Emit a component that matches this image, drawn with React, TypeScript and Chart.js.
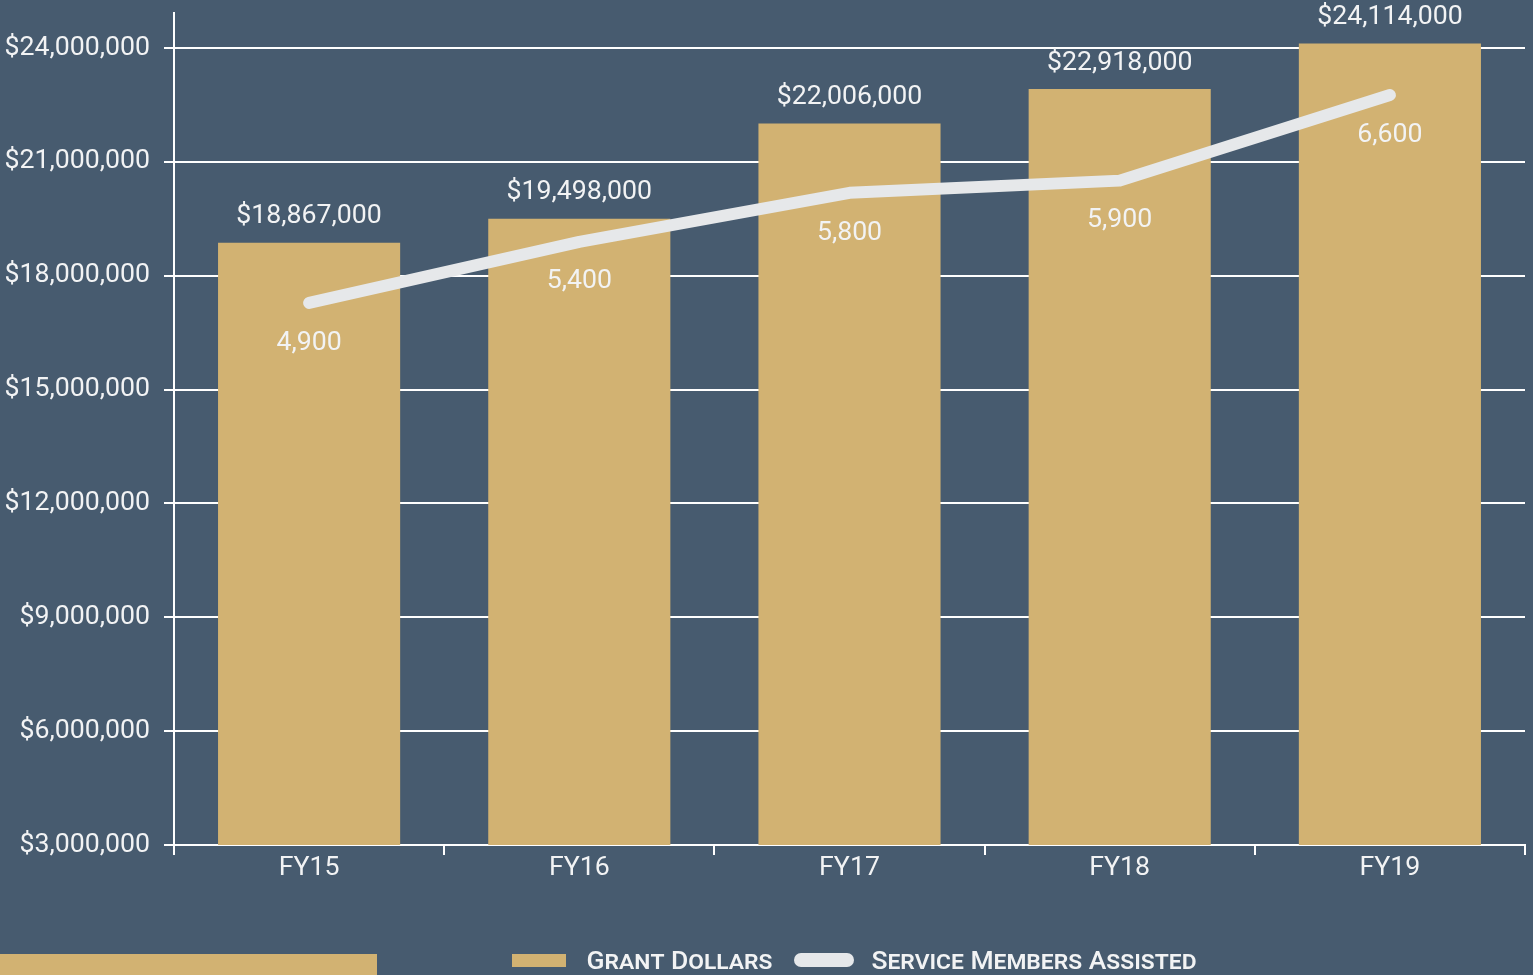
import React, { useEffect, useRef } from "react";
import { Chart, registerables } from "chart.js";

Chart.register(...registerables);

const categories = ["FY15", "FY16", "FY17", "FY18", "FY19"];
const grantDollars = [18867000, 19498000, 22006000, 22918000, 24114000];
const serviceMembers = [4900, 5400, 5800, 5900, 6600];
const yTickValues = [3000000, 6000000, 9000000, 12000000, 15000000, 18000000, 21000000, 24000000];
const grantLabel = "Grant Dollars";
const serviceLabel = "Service Members Assisted";

const BG = "#475b6f";
const GOLD = "#d2b272";
const LINE = "#e6e8ea";
const TEXT = "#f2f3f4";
const FONT = "Roboto";
const FS = 26.7;

const money = (v: number) => "$" + v.toLocaleString("en-US");
const num = (v: number) => v.toLocaleString("en-US");

const valueLabels = {
  id: "valueLabels",
  afterDatasetsDraw(chart: any) {
    const ctx = chart.ctx;
    ctx.save();
    ctx.font = `400 ${FS}px ${FONT}`;
    ctx.fillStyle = TEXT;
    ctx.textAlign = "center";
    ctx.textBaseline = "middle";
    const barMeta = chart.getDatasetMeta(0);
    barMeta.data.forEach((el: any, i: number) => {
      ctx.fillText(money(grantDollars[i]), el.x, el.y - 26);
    });
    const lineMeta = chart.getDatasetMeta(1);
    lineMeta.data.forEach((el: any, i: number) => {
      ctx.fillText(num(serviceMembers[i]), el.x, el.y + 40);
    });
    ctx.restore();
  },
};

export default function App() {
  const ref = useRef<HTMLCanvasElement | null>(null);
  useEffect(() => {
    document.body.style.margin = "0";
    const chart = new Chart(ref.current as HTMLCanvasElement, {
      type: "bar",
      data: {
        labels: categories,
        datasets: [
          {
            type: "bar",
            label: grantLabel,
            data: grantDollars,
            backgroundColor: GOLD,
            borderWidth: 0,
            barPercentage: 0.674,
            categoryPercentage: 1,
            yAxisID: "y",
            order: 2,
          },
          {
            type: "line",
            label: serviceLabel,
            data: serviceMembers,
            borderColor: LINE,
            backgroundColor: LINE,
            borderWidth: 12,
            borderCapStyle: "round",
            borderJoinStyle: "round",
            pointRadius: 0,
            tension: 0,
            yAxisID: "y2",
            order: 1,
          } as any,
        ],
      },
      options: {
        animation: false,
        responsive: true,
        maintainAspectRatio: false,
        layout: { padding: { top: 13, right: 8, left: 0, bottom: 0 } },
        scales: {
          x: {
            offset: true,
            grid: {
              display: true,
              drawOnChartArea: true,
              color: (c: any) => (c.index === categories.length ? "#ffffff" : "rgba(0,0,0,0)"),
              tickColor: "#ffffff",
              lineWidth: 2,
              tickLength: 10,
            },
            border: { display: true, color: "#ffffff", width: 2 },
            ticks: { color: TEXT, font: { family: FONT, size: FS }, padding: -3 },
            afterFit: (s: any) => {
              s.height = 130;
              s.paddingLeft = 0;
              s.paddingRight = 0;
            },
          },
          y: {
            position: "left",
            min: 3000000,
            max: 24920000,
            grid: { color: "#ffffff", lineWidth: 2, tickLength: 10, tickColor: "#ffffff" },
            border: { display: true, color: "#ffffff", width: 2 },
            afterBuildTicks: (s: any) => {
              s.ticks = yTickValues.map((v) => ({ value: v }));
            },
            ticks: {
              color: TEXT,
              font: { family: FONT, size: FS },
              padding: 14,
              callback: (v: any) => money(Number(v)),
            },
            afterFit: (s: any) => {
              s.width = 174;
              s.paddingTop = 0;
              s.paddingBottom = 0;
            },
          },
          y2: {
            display: false,
            min: 470,
            max: 7270,
          },
        },
        plugins: {
          tooltip: { enabled: false },
          legend: { display: false },
        },
      },
      plugins: [valueLabels],
    });
    return () => chart.destroy();
  }, []);

  const legendText: React.CSSProperties = {
    fontFamily: FONT,
    fontVariant: "small-caps",
    fontWeight: 500,
    fontSize: 26.5,
    color: TEXT,
    whiteSpace: "nowrap",
    lineHeight: "28px",
  };

  return (
    <div style={{ position: "fixed", inset: 0, background: BG, overflow: "hidden" }}>
      <div style={{ position: "absolute", inset: 0 }}>
        <canvas ref={ref} />
      </div>
      <div
        style={{
          position: "absolute",
          left: 176,
          right: 0,
          top: 946,
          height: 28,
          display: "flex",
          justifyContent: "center",
          alignItems: "center",
        }}
      >
        <span style={{ display: "inline-block", width: 54, height: 13, background: GOLD, marginRight: 20 }} />
        <span style={legendText}>{grantLabel}</span>
        <span
          style={{
            display: "inline-block",
            width: 60,
            height: 14,
            borderRadius: 7,
            background: LINE,
            marginLeft: 22,
            marginRight: 17,
          }}
        />
        <span style={legendText}>{serviceLabel}</span>
      </div>
      <div
        style={{
          position: "absolute",
          left: 0,
          bottom: 0,
          width: 377,
          height: 21,
          background: GOLD,
        }}
      />
    </div>
  );
}
